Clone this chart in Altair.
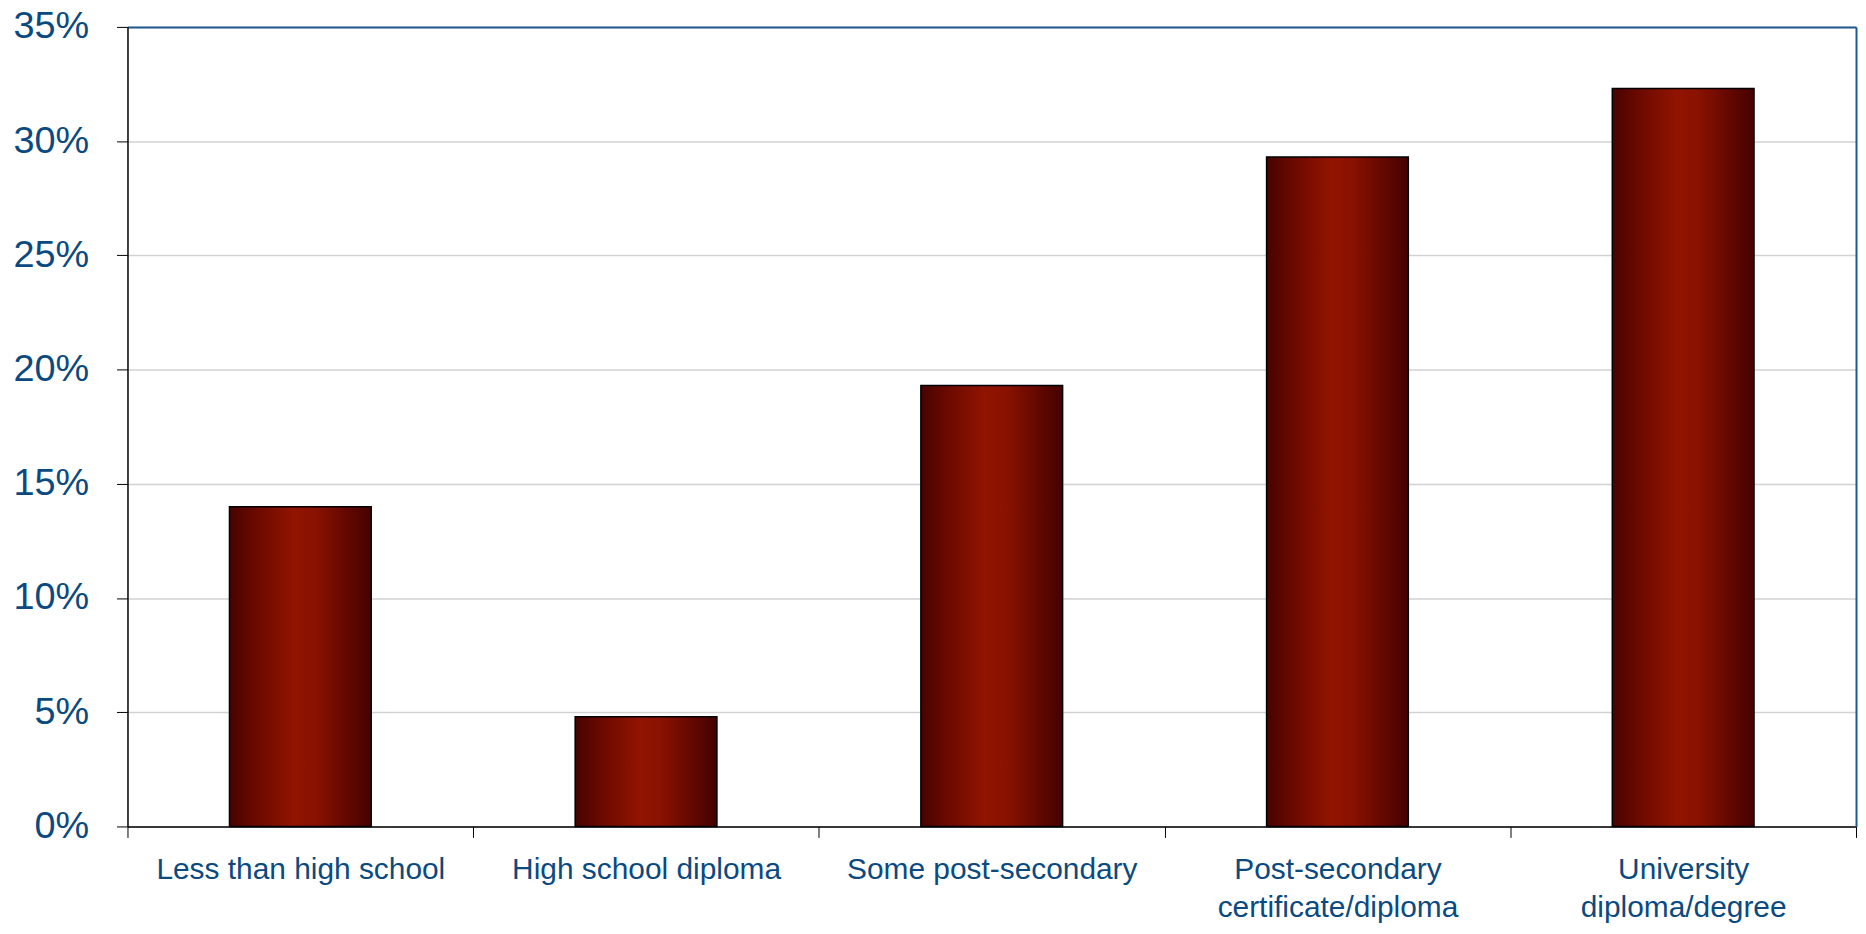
import altair as alt
import pandas as pd

categories = [
    "Less than high school",
    "High school diploma",
    "Some post-secondary",
    "Post-secondary\ncertificate/diploma",
    "University\ndiploma/degree",
]
values = [14.0, 4.8, 19.3, 29.3, 32.3]
y_ticks = [0, 5, 10, 15, 20, 25, 30, 35]

df = pd.DataFrame({"category": categories, "value": values})

FONT = "Liberation Sans"
BLUE = "#0b4a80"
BORDER = "#1f5a8f"

gradient = alt.Gradient(
    gradient="linear",
    x1=0, x2=1, y1=0, y2=0,
    stops=[
        alt.GradientStop(offset=0.0, color="#470300"),
        alt.GradientStop(offset=0.18, color="#6a0900"),
        alt.GradientStop(offset=0.45, color="#911400"),
        alt.GradientStop(offset=0.6, color="#8a1200"),
        alt.GradientStop(offset=0.82, color="#650800"),
        alt.GradientStop(offset=1.0, color="#440200"),
    ],
)

x_scale = alt.Scale(domain=categories, paddingInner=0, paddingOuter=0)
y_scale = alt.Scale(domain=[0, 35], nice=False)

bars = alt.Chart(df).mark_bar(
    fill=gradient, stroke="black", strokeWidth=1.5, width=alt.RelativeBandSize(0.41)
).encode(
    x=alt.X(
        "category:N",
        sort=categories,
        scale=x_scale,
        axis=alt.Axis(
            title=None,
            orient="bottom",
            labelAngle=0,
            labelFont=FONT,
            labelFontSize=30,
            labelColor=BLUE,
            labelLineHeight=38,
            labelPadding=17,
            labelLimit=0,
            labelExpr="split(datum.label, '\\n')",
            tickBand="extent",
            tickSize=11,
            tickColor="black",
            domainColor="black",
            domainWidth=1.5,
            grid=False,
        ),
    ),
    y=alt.Y(
        "value:Q",
        scale=y_scale,
        axis=alt.Axis(
            title=None,
            values=y_ticks,
            labelExpr="datum.value + '%'",
            labelFont=FONT,
            labelFontSize=38,
            labelColor=BLUE,
            labelPadding=28,
            tickSize=11,
            tickColor="black",
            domainColor="black",
            domainWidth=1.5,
            gridColor="#d2d2d2",
            gridWidth=1.5,
        ),
    ),
)

frame = alt.Chart(df).mark_bar(opacity=0).encode(
    x=alt.X(
        "category:N",
        sort=categories,
        scale=x_scale,
        axis=alt.Axis(
            orient="top", title=None, labels=False, ticks=False, grid=False,
            domainColor=BORDER, domainWidth=2,
        ),
    ),
    y=alt.Y(
        "value:Q",
        scale=y_scale,
        axis=alt.Axis(
            orient="right", title=None, labels=False, ticks=False, grid=False,
            domainColor=BORDER, domainWidth=2,
        ),
    ),
)

chart = alt.layer(bars, frame).resolve_axis(x="independent", y="independent").properties(
    width=1736,
    height=803,
    padding={"left": 120, "top": 17, "right": 2, "bottom": 98},
    autosize=alt.AutoSizeParams(type="none"),
    background="white",
).configure_view(stroke=None)

chart.save("out.html", embed_options={"renderer": "svg", "actions": False})
